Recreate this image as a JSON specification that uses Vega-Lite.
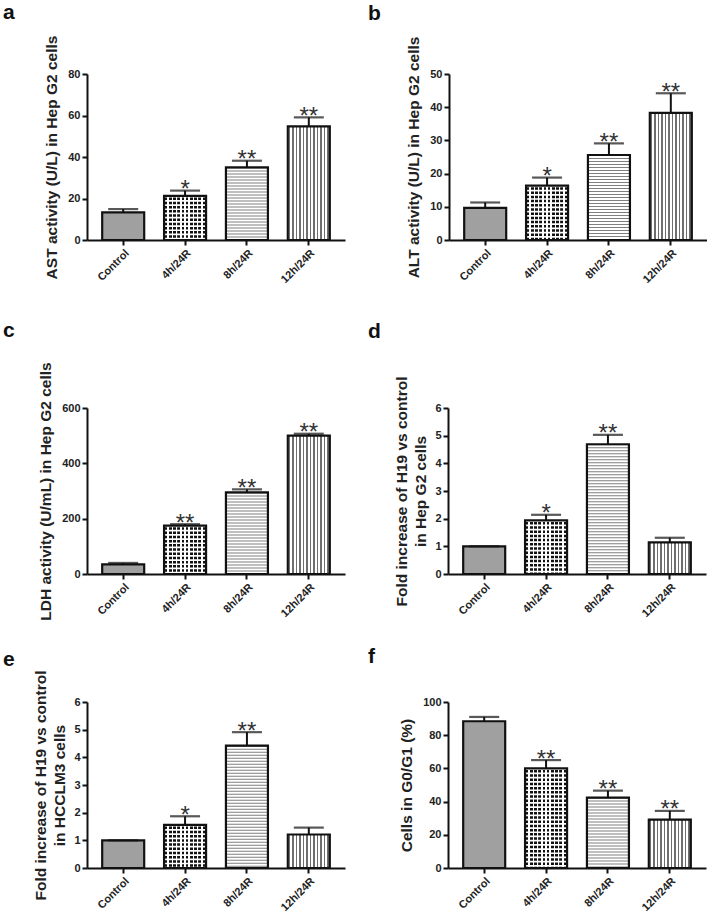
{
"$schema":"https://vega.github.io/schema/vega-lite/v6.json",
"background":"white",
"padding":{"left":3,"top":2,"right":0,"bottom":0},
"datasets":{
"a":[{"group":"Control","value":13.3,"upper":14.9,"sig":""},{"group":"4h/24R","value":21.3,"upper":23.8,"sig":"*"},{"group":"8h/24R","value":35,"upper":38.2,"sig":"**"},{"group":"12h/24R","value":54.8,"upper":59.1,"sig":"**"}],
"b":[{"group":"Control","value":9.7,"upper":11.3,"sig":""},{"group":"4h/24R","value":16.4,"upper":18.8,"sig":"*"},{"group":"8h/24R","value":25.6,"upper":29.1,"sig":"**"},{"group":"12h/24R","value":38.3,"upper":44.2,"sig":"**"}],
"c":[{"group":"Control","value":35,"upper":40,"sig":""},{"group":"4h/24R","value":175,"upper":180,"sig":"**"},{"group":"8h/24R","value":295,"upper":306,"sig":"**"},{"group":"12h/24R","value":500,"upper":507,"sig":"**"}],
"d":[{"group":"Control","value":1.0,"upper":1.0,"sig":""},{"group":"4h/24R","value":1.94,"upper":2.14,"sig":"*"},{"group":"8h/24R","value":4.69,"upper":5.03,"sig":"**"},{"group":"12h/24R","value":1.14,"upper":1.31,"sig":""}],
"e":[{"group":"Control","value":1.0,"upper":1.0,"sig":""},{"group":"4h/24R","value":1.56,"upper":1.87,"sig":"*"},{"group":"8h/24R","value":4.42,"upper":4.91,"sig":"**"},{"group":"12h/24R","value":1.21,"upper":1.46,"sig":""}],
"f":[{"group":"Control","value":88.4,"upper":91,"sig":""},{"group":"4h/24R","value":60,"upper":65,"sig":"**"},{"group":"8h/24R","value":42.4,"upper":46.6,"sig":"**"},{"group":"12h/24R","value":29.2,"upper":34.4,"sig":"**"}]
},
"config":{
"font":"Liberation Sans",
"view":{"stroke":null},
"axis":{"domainColor":"#111","domainWidth":2,"tickColor":"#111","tickWidth":2,"tickSize":5,"labelFont":"Liberation Sans","labelFontSize":11,"labelFontWeight":"bold","labelColor":"#222","labelPadding":2,"titleFont":"Liberation Sans","titleFontSize":15.5,"titleFontWeight":"bold","titleColor":"#222","grid":false},
"title":{"fontSize":21,"fontWeight":"bold","anchor":"start","frame":"group","color":"#111","font":"Liberation Sans"}
},
"spacing":34,
"vconcat":[
{"hconcat":[
{"width":258,"height":166,"title":{"text":"a","dx":-84,"offset":12},"data":{"name":"a"},
"encoding":{"x":{"field":"group","type":"nominal","sort":["Control","4h/24R","8h/24R","12h/24R"],"scale":{"paddingInner":0.33,"paddingOuter":0.25},"axis":{"title":null,"labelAngle":-45}},
"y":{"field":"value","type":"quantitative","scale":{"domain":[0,80]},"axis":{"values":[0,20,40,60,80],"title":"AST activity (U/L) in Hep G2 cells","titlePadding":8}}},
"layer":[
{"transform":[{"filter":"datum.group === 'Control'"}],"mark":{"type":"bar","width":42,"fill":"#a0a0a0"}},
{"transform":[{"filter":"datum.group === '4h/24R'"}],"mark":{"type":"bar","width":42,"fill":{"gradient":"linear","x1":0,"y1":0,"x2":1,"y2":0,"stops":[{"offset":0.019,"color":"#ffffff"},{"offset":0.020,"color":"#111111"},{"offset":0.080,"color":"#111111"},{"offset":0.081,"color":"#ffffff"},{"offset":0.119,"color":"#ffffff"},{"offset":0.120,"color":"#111111"},{"offset":0.180,"color":"#111111"},{"offset":0.181,"color":"#ffffff"},{"offset":0.219,"color":"#ffffff"},{"offset":0.220,"color":"#111111"},{"offset":0.280,"color":"#111111"},{"offset":0.281,"color":"#ffffff"},{"offset":0.319,"color":"#ffffff"},{"offset":0.320,"color":"#111111"},{"offset":0.380,"color":"#111111"},{"offset":0.381,"color":"#ffffff"},{"offset":0.419,"color":"#ffffff"},{"offset":0.420,"color":"#111111"},{"offset":0.480,"color":"#111111"},{"offset":0.481,"color":"#ffffff"},{"offset":0.519,"color":"#ffffff"},{"offset":0.520,"color":"#111111"},{"offset":0.580,"color":"#111111"},{"offset":0.581,"color":"#ffffff"},{"offset":0.619,"color":"#ffffff"},{"offset":0.620,"color":"#111111"},{"offset":0.680,"color":"#111111"},{"offset":0.681,"color":"#ffffff"},{"offset":0.719,"color":"#ffffff"},{"offset":0.720,"color":"#111111"},{"offset":0.780,"color":"#111111"},{"offset":0.781,"color":"#ffffff"},{"offset":0.819,"color":"#ffffff"},{"offset":0.820,"color":"#111111"},{"offset":0.880,"color":"#111111"},{"offset":0.881,"color":"#ffffff"},{"offset":0.919,"color":"#ffffff"},{"offset":0.920,"color":"#111111"},{"offset":0.980,"color":"#111111"},{"offset":0.981,"color":"#ffffff"}]}}},
{"transform":[{"filter":"datum.group === '4h/24R'"}],"mark":{"type":"rule","stroke":"#ffffff","strokeWidth":42,"strokeDash":[1.7,2.5]},"encoding":{"y2":{"datum":0}}},
{"transform":[{"filter":"datum.group === '8h/24R'"}],"mark":{"type":"bar","width":42,"fill":"#ffffff"}},
{"transform":[{"filter":"datum.group === '8h/24R'"}],"mark":{"type":"rule","stroke":"#808080","strokeWidth":42,"strokeDash":[1,2]},"encoding":{"y2":{"datum":0}}},
{"transform":[{"filter":"datum.group === '12h/24R'"}],"mark":{"type":"bar","width":42,"fill":{"gradient":"linear","x1":0,"y1":0,"x2":1,"y2":0,"stops":[{"offset":0.0257,"color":"#ffffff"},{"offset":0.0267,"color":"#6e6e6e"},{"offset":0.0567,"color":"#6e6e6e"},{"offset":0.0577,"color":"#ffffff"},{"offset":0.109,"color":"#ffffff"},{"offset":0.110,"color":"#6e6e6e"},{"offset":0.140,"color":"#6e6e6e"},{"offset":0.141,"color":"#ffffff"},{"offset":0.1923,"color":"#ffffff"},{"offset":0.1933,"color":"#6e6e6e"},{"offset":0.2233,"color":"#6e6e6e"},{"offset":0.2243,"color":"#ffffff"},{"offset":0.2757,"color":"#ffffff"},{"offset":0.2767,"color":"#6e6e6e"},{"offset":0.3067,"color":"#6e6e6e"},{"offset":0.3077,"color":"#ffffff"},{"offset":0.359,"color":"#ffffff"},{"offset":0.360,"color":"#6e6e6e"},{"offset":0.390,"color":"#6e6e6e"},{"offset":0.391,"color":"#ffffff"},{"offset":0.4423,"color":"#ffffff"},{"offset":0.4433,"color":"#6e6e6e"},{"offset":0.4733,"color":"#6e6e6e"},{"offset":0.4743,"color":"#ffffff"},{"offset":0.5257,"color":"#ffffff"},{"offset":0.5267,"color":"#6e6e6e"},{"offset":0.5567,"color":"#6e6e6e"},{"offset":0.5577,"color":"#ffffff"},{"offset":0.609,"color":"#ffffff"},{"offset":0.610,"color":"#6e6e6e"},{"offset":0.640,"color":"#6e6e6e"},{"offset":0.641,"color":"#ffffff"},{"offset":0.6923,"color":"#ffffff"},{"offset":0.6933,"color":"#6e6e6e"},{"offset":0.7233,"color":"#6e6e6e"},{"offset":0.7243,"color":"#ffffff"},{"offset":0.7757,"color":"#ffffff"},{"offset":0.7767,"color":"#6e6e6e"},{"offset":0.8067,"color":"#6e6e6e"},{"offset":0.8077,"color":"#ffffff"},{"offset":0.859,"color":"#ffffff"},{"offset":0.860,"color":"#6e6e6e"},{"offset":0.890,"color":"#6e6e6e"},{"offset":0.891,"color":"#ffffff"},{"offset":0.9423,"color":"#ffffff"},{"offset":0.9433,"color":"#6e6e6e"},{"offset":0.9733,"color":"#6e6e6e"},{"offset":0.9743,"color":"#ffffff"}]}}},
{"mark":{"type":"bar","width":42,"fill":"transparent","stroke":"#111","strokeWidth":2.2}},
{"mark":{"type":"rule","stroke":"#111","strokeWidth":2},"encoding":{"y2":{"field":"upper"}}},
{"mark":{"type":"tick","color":"#111","size":30,"thickness":2.2},"encoding":{"y":{"field":"upper","type":"quantitative"}}},
{"mark":{"type":"text","fontSize":24,"baseline":"alphabetic","dy":6.5,"color":"#333"},"encoding":{"y":{"field":"upper","type":"quantitative"},"text":{"field":"sig"}}}
]},
{"width":258,"height":166,"title":{"text":"b","dx":-81,"offset":12},"data":{"name":"b"},
"encoding":{"x":{"field":"group","type":"nominal","sort":["Control","4h/24R","8h/24R","12h/24R"],"scale":{"paddingInner":0.33,"paddingOuter":0.25},"axis":{"title":null,"labelAngle":-45}},
"y":{"field":"value","type":"quantitative","scale":{"domain":[0,50]},"axis":{"values":[0,10,20,30,40,50],"title":"ALT activity (U/L) in Hep G2 cells","titlePadding":8}}},
"layer":[
{"transform":[{"filter":"datum.group === 'Control'"}],"mark":{"type":"bar","width":42,"fill":"#a0a0a0"}},
{"transform":[{"filter":"datum.group === '4h/24R'"}],"mark":{"type":"bar","width":42,"fill":{"gradient":"linear","x1":0,"y1":0,"x2":1,"y2":0,"stops":[{"offset":0.019,"color":"#ffffff"},{"offset":0.020,"color":"#111111"},{"offset":0.080,"color":"#111111"},{"offset":0.081,"color":"#ffffff"},{"offset":0.119,"color":"#ffffff"},{"offset":0.120,"color":"#111111"},{"offset":0.180,"color":"#111111"},{"offset":0.181,"color":"#ffffff"},{"offset":0.219,"color":"#ffffff"},{"offset":0.220,"color":"#111111"},{"offset":0.280,"color":"#111111"},{"offset":0.281,"color":"#ffffff"},{"offset":0.319,"color":"#ffffff"},{"offset":0.320,"color":"#111111"},{"offset":0.380,"color":"#111111"},{"offset":0.381,"color":"#ffffff"},{"offset":0.419,"color":"#ffffff"},{"offset":0.420,"color":"#111111"},{"offset":0.480,"color":"#111111"},{"offset":0.481,"color":"#ffffff"},{"offset":0.519,"color":"#ffffff"},{"offset":0.520,"color":"#111111"},{"offset":0.580,"color":"#111111"},{"offset":0.581,"color":"#ffffff"},{"offset":0.619,"color":"#ffffff"},{"offset":0.620,"color":"#111111"},{"offset":0.680,"color":"#111111"},{"offset":0.681,"color":"#ffffff"},{"offset":0.719,"color":"#ffffff"},{"offset":0.720,"color":"#111111"},{"offset":0.780,"color":"#111111"},{"offset":0.781,"color":"#ffffff"},{"offset":0.819,"color":"#ffffff"},{"offset":0.820,"color":"#111111"},{"offset":0.880,"color":"#111111"},{"offset":0.881,"color":"#ffffff"},{"offset":0.919,"color":"#ffffff"},{"offset":0.920,"color":"#111111"},{"offset":0.980,"color":"#111111"},{"offset":0.981,"color":"#ffffff"}]}}},
{"transform":[{"filter":"datum.group === '4h/24R'"}],"mark":{"type":"rule","stroke":"#ffffff","strokeWidth":42,"strokeDash":[1.7,2.5]},"encoding":{"y2":{"datum":0}}},
{"transform":[{"filter":"datum.group === '8h/24R'"}],"mark":{"type":"bar","width":42,"fill":"#ffffff"}},
{"transform":[{"filter":"datum.group === '8h/24R'"}],"mark":{"type":"rule","stroke":"#808080","strokeWidth":42,"strokeDash":[1,2]},"encoding":{"y2":{"datum":0}}},
{"transform":[{"filter":"datum.group === '12h/24R'"}],"mark":{"type":"bar","width":42,"fill":{"gradient":"linear","x1":0,"y1":0,"x2":1,"y2":0,"stops":[{"offset":0.0257,"color":"#ffffff"},{"offset":0.0267,"color":"#6e6e6e"},{"offset":0.0567,"color":"#6e6e6e"},{"offset":0.0577,"color":"#ffffff"},{"offset":0.109,"color":"#ffffff"},{"offset":0.110,"color":"#6e6e6e"},{"offset":0.140,"color":"#6e6e6e"},{"offset":0.141,"color":"#ffffff"},{"offset":0.1923,"color":"#ffffff"},{"offset":0.1933,"color":"#6e6e6e"},{"offset":0.2233,"color":"#6e6e6e"},{"offset":0.2243,"color":"#ffffff"},{"offset":0.2757,"color":"#ffffff"},{"offset":0.2767,"color":"#6e6e6e"},{"offset":0.3067,"color":"#6e6e6e"},{"offset":0.3077,"color":"#ffffff"},{"offset":0.359,"color":"#ffffff"},{"offset":0.360,"color":"#6e6e6e"},{"offset":0.390,"color":"#6e6e6e"},{"offset":0.391,"color":"#ffffff"},{"offset":0.4423,"color":"#ffffff"},{"offset":0.4433,"color":"#6e6e6e"},{"offset":0.4733,"color":"#6e6e6e"},{"offset":0.4743,"color":"#ffffff"},{"offset":0.5257,"color":"#ffffff"},{"offset":0.5267,"color":"#6e6e6e"},{"offset":0.5567,"color":"#6e6e6e"},{"offset":0.5577,"color":"#ffffff"},{"offset":0.609,"color":"#ffffff"},{"offset":0.610,"color":"#6e6e6e"},{"offset":0.640,"color":"#6e6e6e"},{"offset":0.641,"color":"#ffffff"},{"offset":0.6923,"color":"#ffffff"},{"offset":0.6933,"color":"#6e6e6e"},{"offset":0.7233,"color":"#6e6e6e"},{"offset":0.7243,"color":"#ffffff"},{"offset":0.7757,"color":"#ffffff"},{"offset":0.7767,"color":"#6e6e6e"},{"offset":0.8067,"color":"#6e6e6e"},{"offset":0.8077,"color":"#ffffff"},{"offset":0.859,"color":"#ffffff"},{"offset":0.860,"color":"#6e6e6e"},{"offset":0.890,"color":"#6e6e6e"},{"offset":0.891,"color":"#ffffff"},{"offset":0.9423,"color":"#ffffff"},{"offset":0.9433,"color":"#6e6e6e"},{"offset":0.9733,"color":"#6e6e6e"},{"offset":0.9743,"color":"#ffffff"}]}}},
{"mark":{"type":"bar","width":42,"fill":"transparent","stroke":"#111","strokeWidth":2.2}},
{"mark":{"type":"rule","stroke":"#111","strokeWidth":2},"encoding":{"y2":{"field":"upper"}}},
{"mark":{"type":"tick","color":"#111","size":30,"thickness":2.2},"encoding":{"y":{"field":"upper","type":"quantitative"}}},
{"mark":{"type":"text","fontSize":24,"baseline":"alphabetic","dy":6.5,"color":"#333"},"encoding":{"y":{"field":"upper","type":"quantitative"},"text":{"field":"sig"}}}
]}
],"spacing":23},
{"spacing":25,"vconcat":[
{"hconcat":[
{"width":258,"height":166,"title":{"text":"c","dx":-84,"offset":21},"data":{"name":"c"},
"encoding":{"x":{"field":"group","type":"nominal","sort":["Control","4h/24R","8h/24R","12h/24R"],"scale":{"paddingInner":0.33,"paddingOuter":0.25},"axis":{"title":null,"labelAngle":-45}},
"y":{"field":"value","type":"quantitative","scale":{"domain":[0,600]},"axis":{"values":[0,200,400,600],"title":"LDH activity (U/mL) in Hep G2 cells","titlePadding":8}}},
"layer":[
{"transform":[{"filter":"datum.group === 'Control'"}],"mark":{"type":"bar","width":42,"fill":"#a0a0a0"}},
{"transform":[{"filter":"datum.group === '4h/24R'"}],"mark":{"type":"bar","width":42,"fill":{"gradient":"linear","x1":0,"y1":0,"x2":1,"y2":0,"stops":[{"offset":0.019,"color":"#ffffff"},{"offset":0.020,"color":"#111111"},{"offset":0.080,"color":"#111111"},{"offset":0.081,"color":"#ffffff"},{"offset":0.119,"color":"#ffffff"},{"offset":0.120,"color":"#111111"},{"offset":0.180,"color":"#111111"},{"offset":0.181,"color":"#ffffff"},{"offset":0.219,"color":"#ffffff"},{"offset":0.220,"color":"#111111"},{"offset":0.280,"color":"#111111"},{"offset":0.281,"color":"#ffffff"},{"offset":0.319,"color":"#ffffff"},{"offset":0.320,"color":"#111111"},{"offset":0.380,"color":"#111111"},{"offset":0.381,"color":"#ffffff"},{"offset":0.419,"color":"#ffffff"},{"offset":0.420,"color":"#111111"},{"offset":0.480,"color":"#111111"},{"offset":0.481,"color":"#ffffff"},{"offset":0.519,"color":"#ffffff"},{"offset":0.520,"color":"#111111"},{"offset":0.580,"color":"#111111"},{"offset":0.581,"color":"#ffffff"},{"offset":0.619,"color":"#ffffff"},{"offset":0.620,"color":"#111111"},{"offset":0.680,"color":"#111111"},{"offset":0.681,"color":"#ffffff"},{"offset":0.719,"color":"#ffffff"},{"offset":0.720,"color":"#111111"},{"offset":0.780,"color":"#111111"},{"offset":0.781,"color":"#ffffff"},{"offset":0.819,"color":"#ffffff"},{"offset":0.820,"color":"#111111"},{"offset":0.880,"color":"#111111"},{"offset":0.881,"color":"#ffffff"},{"offset":0.919,"color":"#ffffff"},{"offset":0.920,"color":"#111111"},{"offset":0.980,"color":"#111111"},{"offset":0.981,"color":"#ffffff"}]}}},
{"transform":[{"filter":"datum.group === '4h/24R'"}],"mark":{"type":"rule","stroke":"#ffffff","strokeWidth":42,"strokeDash":[1.7,2.5]},"encoding":{"y2":{"datum":0}}},
{"transform":[{"filter":"datum.group === '8h/24R'"}],"mark":{"type":"bar","width":42,"fill":"#ffffff"}},
{"transform":[{"filter":"datum.group === '8h/24R'"}],"mark":{"type":"rule","stroke":"#808080","strokeWidth":42,"strokeDash":[1,2]},"encoding":{"y2":{"datum":0}}},
{"transform":[{"filter":"datum.group === '12h/24R'"}],"mark":{"type":"bar","width":42,"fill":{"gradient":"linear","x1":0,"y1":0,"x2":1,"y2":0,"stops":[{"offset":0.0257,"color":"#ffffff"},{"offset":0.0267,"color":"#6e6e6e"},{"offset":0.0567,"color":"#6e6e6e"},{"offset":0.0577,"color":"#ffffff"},{"offset":0.109,"color":"#ffffff"},{"offset":0.110,"color":"#6e6e6e"},{"offset":0.140,"color":"#6e6e6e"},{"offset":0.141,"color":"#ffffff"},{"offset":0.1923,"color":"#ffffff"},{"offset":0.1933,"color":"#6e6e6e"},{"offset":0.2233,"color":"#6e6e6e"},{"offset":0.2243,"color":"#ffffff"},{"offset":0.2757,"color":"#ffffff"},{"offset":0.2767,"color":"#6e6e6e"},{"offset":0.3067,"color":"#6e6e6e"},{"offset":0.3077,"color":"#ffffff"},{"offset":0.359,"color":"#ffffff"},{"offset":0.360,"color":"#6e6e6e"},{"offset":0.390,"color":"#6e6e6e"},{"offset":0.391,"color":"#ffffff"},{"offset":0.4423,"color":"#ffffff"},{"offset":0.4433,"color":"#6e6e6e"},{"offset":0.4733,"color":"#6e6e6e"},{"offset":0.4743,"color":"#ffffff"},{"offset":0.5257,"color":"#ffffff"},{"offset":0.5267,"color":"#6e6e6e"},{"offset":0.5567,"color":"#6e6e6e"},{"offset":0.5577,"color":"#ffffff"},{"offset":0.609,"color":"#ffffff"},{"offset":0.610,"color":"#6e6e6e"},{"offset":0.640,"color":"#6e6e6e"},{"offset":0.641,"color":"#ffffff"},{"offset":0.6923,"color":"#ffffff"},{"offset":0.6933,"color":"#6e6e6e"},{"offset":0.7233,"color":"#6e6e6e"},{"offset":0.7243,"color":"#ffffff"},{"offset":0.7757,"color":"#ffffff"},{"offset":0.7767,"color":"#6e6e6e"},{"offset":0.8067,"color":"#6e6e6e"},{"offset":0.8077,"color":"#ffffff"},{"offset":0.859,"color":"#ffffff"},{"offset":0.860,"color":"#6e6e6e"},{"offset":0.890,"color":"#6e6e6e"},{"offset":0.891,"color":"#ffffff"},{"offset":0.9423,"color":"#ffffff"},{"offset":0.9433,"color":"#6e6e6e"},{"offset":0.9733,"color":"#6e6e6e"},{"offset":0.9743,"color":"#ffffff"}]}}},
{"mark":{"type":"bar","width":42,"fill":"transparent","stroke":"#111","strokeWidth":2.2}},
{"mark":{"type":"rule","stroke":"#111","strokeWidth":2},"encoding":{"y2":{"field":"upper"}}},
{"mark":{"type":"tick","color":"#111","size":30,"thickness":2.2},"encoding":{"y":{"field":"upper","type":"quantitative"}}},
{"mark":{"type":"text","fontSize":24,"baseline":"alphabetic","dy":6.5,"color":"#333"},"encoding":{"y":{"field":"upper","type":"quantitative"},"text":{"field":"sig"}}}
]},
{"width":258,"height":166,"title":{"text":"d","dx":-80,"offset":34},"data":{"name":"d"},
"encoding":{"x":{"field":"group","type":"nominal","sort":["Control","4h/24R","8h/24R","12h/24R"],"scale":{"paddingInner":0.33,"paddingOuter":0.25},"axis":{"title":null,"labelAngle":-45}},
"y":{"field":"value","type":"quantitative","scale":{"domain":[0,6]},"axis":{"values":[0,1,2,3,4,5,6],"title":["Fold increase of H19 vs control","in Hep G2 cells"],"titleLineHeight":19,"titlePadding":6}}},
"layer":[
{"transform":[{"filter":"datum.group === 'Control'"}],"mark":{"type":"bar","width":42,"fill":"#a0a0a0"}},
{"transform":[{"filter":"datum.group === '4h/24R'"}],"mark":{"type":"bar","width":42,"fill":{"gradient":"linear","x1":0,"y1":0,"x2":1,"y2":0,"stops":[{"offset":0.019,"color":"#ffffff"},{"offset":0.020,"color":"#111111"},{"offset":0.080,"color":"#111111"},{"offset":0.081,"color":"#ffffff"},{"offset":0.119,"color":"#ffffff"},{"offset":0.120,"color":"#111111"},{"offset":0.180,"color":"#111111"},{"offset":0.181,"color":"#ffffff"},{"offset":0.219,"color":"#ffffff"},{"offset":0.220,"color":"#111111"},{"offset":0.280,"color":"#111111"},{"offset":0.281,"color":"#ffffff"},{"offset":0.319,"color":"#ffffff"},{"offset":0.320,"color":"#111111"},{"offset":0.380,"color":"#111111"},{"offset":0.381,"color":"#ffffff"},{"offset":0.419,"color":"#ffffff"},{"offset":0.420,"color":"#111111"},{"offset":0.480,"color":"#111111"},{"offset":0.481,"color":"#ffffff"},{"offset":0.519,"color":"#ffffff"},{"offset":0.520,"color":"#111111"},{"offset":0.580,"color":"#111111"},{"offset":0.581,"color":"#ffffff"},{"offset":0.619,"color":"#ffffff"},{"offset":0.620,"color":"#111111"},{"offset":0.680,"color":"#111111"},{"offset":0.681,"color":"#ffffff"},{"offset":0.719,"color":"#ffffff"},{"offset":0.720,"color":"#111111"},{"offset":0.780,"color":"#111111"},{"offset":0.781,"color":"#ffffff"},{"offset":0.819,"color":"#ffffff"},{"offset":0.820,"color":"#111111"},{"offset":0.880,"color":"#111111"},{"offset":0.881,"color":"#ffffff"},{"offset":0.919,"color":"#ffffff"},{"offset":0.920,"color":"#111111"},{"offset":0.980,"color":"#111111"},{"offset":0.981,"color":"#ffffff"}]}}},
{"transform":[{"filter":"datum.group === '4h/24R'"}],"mark":{"type":"rule","stroke":"#ffffff","strokeWidth":42,"strokeDash":[1.7,2.5]},"encoding":{"y2":{"datum":0}}},
{"transform":[{"filter":"datum.group === '8h/24R'"}],"mark":{"type":"bar","width":42,"fill":"#ffffff"}},
{"transform":[{"filter":"datum.group === '8h/24R'"}],"mark":{"type":"rule","stroke":"#808080","strokeWidth":42,"strokeDash":[1,2]},"encoding":{"y2":{"datum":0}}},
{"transform":[{"filter":"datum.group === '12h/24R'"}],"mark":{"type":"bar","width":42,"fill":{"gradient":"linear","x1":0,"y1":0,"x2":1,"y2":0,"stops":[{"offset":0.0257,"color":"#ffffff"},{"offset":0.0267,"color":"#6e6e6e"},{"offset":0.0567,"color":"#6e6e6e"},{"offset":0.0577,"color":"#ffffff"},{"offset":0.109,"color":"#ffffff"},{"offset":0.110,"color":"#6e6e6e"},{"offset":0.140,"color":"#6e6e6e"},{"offset":0.141,"color":"#ffffff"},{"offset":0.1923,"color":"#ffffff"},{"offset":0.1933,"color":"#6e6e6e"},{"offset":0.2233,"color":"#6e6e6e"},{"offset":0.2243,"color":"#ffffff"},{"offset":0.2757,"color":"#ffffff"},{"offset":0.2767,"color":"#6e6e6e"},{"offset":0.3067,"color":"#6e6e6e"},{"offset":0.3077,"color":"#ffffff"},{"offset":0.359,"color":"#ffffff"},{"offset":0.360,"color":"#6e6e6e"},{"offset":0.390,"color":"#6e6e6e"},{"offset":0.391,"color":"#ffffff"},{"offset":0.4423,"color":"#ffffff"},{"offset":0.4433,"color":"#6e6e6e"},{"offset":0.4733,"color":"#6e6e6e"},{"offset":0.4743,"color":"#ffffff"},{"offset":0.5257,"color":"#ffffff"},{"offset":0.5267,"color":"#6e6e6e"},{"offset":0.5567,"color":"#6e6e6e"},{"offset":0.5577,"color":"#ffffff"},{"offset":0.609,"color":"#ffffff"},{"offset":0.610,"color":"#6e6e6e"},{"offset":0.640,"color":"#6e6e6e"},{"offset":0.641,"color":"#ffffff"},{"offset":0.6923,"color":"#ffffff"},{"offset":0.6933,"color":"#6e6e6e"},{"offset":0.7233,"color":"#6e6e6e"},{"offset":0.7243,"color":"#ffffff"},{"offset":0.7757,"color":"#ffffff"},{"offset":0.7767,"color":"#6e6e6e"},{"offset":0.8067,"color":"#6e6e6e"},{"offset":0.8077,"color":"#ffffff"},{"offset":0.859,"color":"#ffffff"},{"offset":0.860,"color":"#6e6e6e"},{"offset":0.890,"color":"#6e6e6e"},{"offset":0.891,"color":"#ffffff"},{"offset":0.9423,"color":"#ffffff"},{"offset":0.9433,"color":"#6e6e6e"},{"offset":0.9733,"color":"#6e6e6e"},{"offset":0.9743,"color":"#ffffff"}]}}},
{"mark":{"type":"bar","width":42,"fill":"transparent","stroke":"#111","strokeWidth":2.2}},
{"mark":{"type":"rule","stroke":"#111","strokeWidth":2},"encoding":{"y2":{"field":"upper"}}},
{"mark":{"type":"tick","color":"#111","size":30,"thickness":2.2},"encoding":{"y":{"field":"upper","type":"quantitative"}}},
{"mark":{"type":"text","fontSize":24,"baseline":"alphabetic","dy":6.5,"color":"#333"},"encoding":{"y":{"field":"upper","type":"quantitative"},"text":{"field":"sig"}}}
]}
],"spacing":23},
{"hconcat":[
{"width":258,"height":166,"title":{"text":"e","dx":-84,"offset":0},"data":{"name":"e"},
"encoding":{"x":{"field":"group","type":"nominal","sort":["Control","4h/24R","8h/24R","12h/24R"],"scale":{"paddingInner":0.33,"paddingOuter":0.25},"axis":{"title":null,"labelAngle":-45}},
"y":{"field":"value","type":"quantitative","scale":{"domain":[0,6]},"axis":{"values":[0,1,2,3,4,5,6],"title":["Fold increase of H19 vs control","in HCCLM3 cells"],"titleLineHeight":19,"titlePadding":6}}},
"layer":[
{"transform":[{"filter":"datum.group === 'Control'"}],"mark":{"type":"bar","width":42,"fill":"#a0a0a0"}},
{"transform":[{"filter":"datum.group === '4h/24R'"}],"mark":{"type":"bar","width":42,"fill":{"gradient":"linear","x1":0,"y1":0,"x2":1,"y2":0,"stops":[{"offset":0.019,"color":"#ffffff"},{"offset":0.020,"color":"#111111"},{"offset":0.080,"color":"#111111"},{"offset":0.081,"color":"#ffffff"},{"offset":0.119,"color":"#ffffff"},{"offset":0.120,"color":"#111111"},{"offset":0.180,"color":"#111111"},{"offset":0.181,"color":"#ffffff"},{"offset":0.219,"color":"#ffffff"},{"offset":0.220,"color":"#111111"},{"offset":0.280,"color":"#111111"},{"offset":0.281,"color":"#ffffff"},{"offset":0.319,"color":"#ffffff"},{"offset":0.320,"color":"#111111"},{"offset":0.380,"color":"#111111"},{"offset":0.381,"color":"#ffffff"},{"offset":0.419,"color":"#ffffff"},{"offset":0.420,"color":"#111111"},{"offset":0.480,"color":"#111111"},{"offset":0.481,"color":"#ffffff"},{"offset":0.519,"color":"#ffffff"},{"offset":0.520,"color":"#111111"},{"offset":0.580,"color":"#111111"},{"offset":0.581,"color":"#ffffff"},{"offset":0.619,"color":"#ffffff"},{"offset":0.620,"color":"#111111"},{"offset":0.680,"color":"#111111"},{"offset":0.681,"color":"#ffffff"},{"offset":0.719,"color":"#ffffff"},{"offset":0.720,"color":"#111111"},{"offset":0.780,"color":"#111111"},{"offset":0.781,"color":"#ffffff"},{"offset":0.819,"color":"#ffffff"},{"offset":0.820,"color":"#111111"},{"offset":0.880,"color":"#111111"},{"offset":0.881,"color":"#ffffff"},{"offset":0.919,"color":"#ffffff"},{"offset":0.920,"color":"#111111"},{"offset":0.980,"color":"#111111"},{"offset":0.981,"color":"#ffffff"}]}}},
{"transform":[{"filter":"datum.group === '4h/24R'"}],"mark":{"type":"rule","stroke":"#ffffff","strokeWidth":42,"strokeDash":[1.7,2.5]},"encoding":{"y2":{"datum":0}}},
{"transform":[{"filter":"datum.group === '8h/24R'"}],"mark":{"type":"bar","width":42,"fill":"#ffffff"}},
{"transform":[{"filter":"datum.group === '8h/24R'"}],"mark":{"type":"rule","stroke":"#808080","strokeWidth":42,"strokeDash":[1,2]},"encoding":{"y2":{"datum":0}}},
{"transform":[{"filter":"datum.group === '12h/24R'"}],"mark":{"type":"bar","width":42,"fill":{"gradient":"linear","x1":0,"y1":0,"x2":1,"y2":0,"stops":[{"offset":0.0257,"color":"#ffffff"},{"offset":0.0267,"color":"#6e6e6e"},{"offset":0.0567,"color":"#6e6e6e"},{"offset":0.0577,"color":"#ffffff"},{"offset":0.109,"color":"#ffffff"},{"offset":0.110,"color":"#6e6e6e"},{"offset":0.140,"color":"#6e6e6e"},{"offset":0.141,"color":"#ffffff"},{"offset":0.1923,"color":"#ffffff"},{"offset":0.1933,"color":"#6e6e6e"},{"offset":0.2233,"color":"#6e6e6e"},{"offset":0.2243,"color":"#ffffff"},{"offset":0.2757,"color":"#ffffff"},{"offset":0.2767,"color":"#6e6e6e"},{"offset":0.3067,"color":"#6e6e6e"},{"offset":0.3077,"color":"#ffffff"},{"offset":0.359,"color":"#ffffff"},{"offset":0.360,"color":"#6e6e6e"},{"offset":0.390,"color":"#6e6e6e"},{"offset":0.391,"color":"#ffffff"},{"offset":0.4423,"color":"#ffffff"},{"offset":0.4433,"color":"#6e6e6e"},{"offset":0.4733,"color":"#6e6e6e"},{"offset":0.4743,"color":"#ffffff"},{"offset":0.5257,"color":"#ffffff"},{"offset":0.5267,"color":"#6e6e6e"},{"offset":0.5567,"color":"#6e6e6e"},{"offset":0.5577,"color":"#ffffff"},{"offset":0.609,"color":"#ffffff"},{"offset":0.610,"color":"#6e6e6e"},{"offset":0.640,"color":"#6e6e6e"},{"offset":0.641,"color":"#ffffff"},{"offset":0.6923,"color":"#ffffff"},{"offset":0.6933,"color":"#6e6e6e"},{"offset":0.7233,"color":"#6e6e6e"},{"offset":0.7243,"color":"#ffffff"},{"offset":0.7757,"color":"#ffffff"},{"offset":0.7767,"color":"#6e6e6e"},{"offset":0.8067,"color":"#6e6e6e"},{"offset":0.8077,"color":"#ffffff"},{"offset":0.859,"color":"#ffffff"},{"offset":0.860,"color":"#6e6e6e"},{"offset":0.890,"color":"#6e6e6e"},{"offset":0.891,"color":"#ffffff"},{"offset":0.9423,"color":"#ffffff"},{"offset":0.9433,"color":"#6e6e6e"},{"offset":0.9733,"color":"#6e6e6e"},{"offset":0.9743,"color":"#ffffff"}]}}},
{"mark":{"type":"bar","width":42,"fill":"transparent","stroke":"#111","strokeWidth":2.2}},
{"mark":{"type":"rule","stroke":"#111","strokeWidth":2},"encoding":{"y2":{"field":"upper"}}},
{"mark":{"type":"tick","color":"#111","size":30,"thickness":2.2},"encoding":{"y":{"field":"upper","type":"quantitative"}}},
{"mark":{"type":"text","fontSize":24,"baseline":"alphabetic","dy":6.5,"color":"#333"},"encoding":{"y":{"field":"upper","type":"quantitative"},"text":{"field":"sig"}}}
]},
{"width":258,"height":166,"title":{"text":"f","dx":-80,"offset":29},"data":{"name":"f"},
"encoding":{"x":{"field":"group","type":"nominal","sort":["Control","4h/24R","8h/24R","12h/24R"],"scale":{"paddingInner":0.33,"paddingOuter":0.25},"axis":{"title":null,"labelAngle":-45}},
"y":{"field":"value","type":"quantitative","scale":{"domain":[0,100]},"axis":{"values":[0,20,40,60,80,100],"title":"Cells in G0/G1 (%)","titlePadding":8}}},
"layer":[
{"transform":[{"filter":"datum.group === 'Control'"}],"mark":{"type":"bar","width":42,"fill":"#a0a0a0"}},
{"transform":[{"filter":"datum.group === '4h/24R'"}],"mark":{"type":"bar","width":42,"fill":{"gradient":"linear","x1":0,"y1":0,"x2":1,"y2":0,"stops":[{"offset":0.019,"color":"#ffffff"},{"offset":0.020,"color":"#111111"},{"offset":0.080,"color":"#111111"},{"offset":0.081,"color":"#ffffff"},{"offset":0.119,"color":"#ffffff"},{"offset":0.120,"color":"#111111"},{"offset":0.180,"color":"#111111"},{"offset":0.181,"color":"#ffffff"},{"offset":0.219,"color":"#ffffff"},{"offset":0.220,"color":"#111111"},{"offset":0.280,"color":"#111111"},{"offset":0.281,"color":"#ffffff"},{"offset":0.319,"color":"#ffffff"},{"offset":0.320,"color":"#111111"},{"offset":0.380,"color":"#111111"},{"offset":0.381,"color":"#ffffff"},{"offset":0.419,"color":"#ffffff"},{"offset":0.420,"color":"#111111"},{"offset":0.480,"color":"#111111"},{"offset":0.481,"color":"#ffffff"},{"offset":0.519,"color":"#ffffff"},{"offset":0.520,"color":"#111111"},{"offset":0.580,"color":"#111111"},{"offset":0.581,"color":"#ffffff"},{"offset":0.619,"color":"#ffffff"},{"offset":0.620,"color":"#111111"},{"offset":0.680,"color":"#111111"},{"offset":0.681,"color":"#ffffff"},{"offset":0.719,"color":"#ffffff"},{"offset":0.720,"color":"#111111"},{"offset":0.780,"color":"#111111"},{"offset":0.781,"color":"#ffffff"},{"offset":0.819,"color":"#ffffff"},{"offset":0.820,"color":"#111111"},{"offset":0.880,"color":"#111111"},{"offset":0.881,"color":"#ffffff"},{"offset":0.919,"color":"#ffffff"},{"offset":0.920,"color":"#111111"},{"offset":0.980,"color":"#111111"},{"offset":0.981,"color":"#ffffff"}]}}},
{"transform":[{"filter":"datum.group === '4h/24R'"}],"mark":{"type":"rule","stroke":"#ffffff","strokeWidth":42,"strokeDash":[1.7,2.5]},"encoding":{"y2":{"datum":0}}},
{"transform":[{"filter":"datum.group === '8h/24R'"}],"mark":{"type":"bar","width":42,"fill":"#ffffff"}},
{"transform":[{"filter":"datum.group === '8h/24R'"}],"mark":{"type":"rule","stroke":"#808080","strokeWidth":42,"strokeDash":[1,2]},"encoding":{"y2":{"datum":0}}},
{"transform":[{"filter":"datum.group === '12h/24R'"}],"mark":{"type":"bar","width":42,"fill":{"gradient":"linear","x1":0,"y1":0,"x2":1,"y2":0,"stops":[{"offset":0.0257,"color":"#ffffff"},{"offset":0.0267,"color":"#6e6e6e"},{"offset":0.0567,"color":"#6e6e6e"},{"offset":0.0577,"color":"#ffffff"},{"offset":0.109,"color":"#ffffff"},{"offset":0.110,"color":"#6e6e6e"},{"offset":0.140,"color":"#6e6e6e"},{"offset":0.141,"color":"#ffffff"},{"offset":0.1923,"color":"#ffffff"},{"offset":0.1933,"color":"#6e6e6e"},{"offset":0.2233,"color":"#6e6e6e"},{"offset":0.2243,"color":"#ffffff"},{"offset":0.2757,"color":"#ffffff"},{"offset":0.2767,"color":"#6e6e6e"},{"offset":0.3067,"color":"#6e6e6e"},{"offset":0.3077,"color":"#ffffff"},{"offset":0.359,"color":"#ffffff"},{"offset":0.360,"color":"#6e6e6e"},{"offset":0.390,"color":"#6e6e6e"},{"offset":0.391,"color":"#ffffff"},{"offset":0.4423,"color":"#ffffff"},{"offset":0.4433,"color":"#6e6e6e"},{"offset":0.4733,"color":"#6e6e6e"},{"offset":0.4743,"color":"#ffffff"},{"offset":0.5257,"color":"#ffffff"},{"offset":0.5267,"color":"#6e6e6e"},{"offset":0.5567,"color":"#6e6e6e"},{"offset":0.5577,"color":"#ffffff"},{"offset":0.609,"color":"#ffffff"},{"offset":0.610,"color":"#6e6e6e"},{"offset":0.640,"color":"#6e6e6e"},{"offset":0.641,"color":"#ffffff"},{"offset":0.6923,"color":"#ffffff"},{"offset":0.6933,"color":"#6e6e6e"},{"offset":0.7233,"color":"#6e6e6e"},{"offset":0.7243,"color":"#ffffff"},{"offset":0.7757,"color":"#ffffff"},{"offset":0.7767,"color":"#6e6e6e"},{"offset":0.8067,"color":"#6e6e6e"},{"offset":0.8077,"color":"#ffffff"},{"offset":0.859,"color":"#ffffff"},{"offset":0.860,"color":"#6e6e6e"},{"offset":0.890,"color":"#6e6e6e"},{"offset":0.891,"color":"#ffffff"},{"offset":0.9423,"color":"#ffffff"},{"offset":0.9433,"color":"#6e6e6e"},{"offset":0.9733,"color":"#6e6e6e"},{"offset":0.9743,"color":"#ffffff"}]}}},
{"mark":{"type":"bar","width":42,"fill":"transparent","stroke":"#111","strokeWidth":2.2}},
{"mark":{"type":"rule","stroke":"#111","strokeWidth":2},"encoding":{"y2":{"field":"upper"}}},
{"mark":{"type":"tick","color":"#111","size":30,"thickness":2.2},"encoding":{"y":{"field":"upper","type":"quantitative"}}},
{"mark":{"type":"text","fontSize":24,"baseline":"alphabetic","dy":6.5,"color":"#333"},"encoding":{"y":{"field":"upper","type":"quantitative"},"text":{"field":"sig"}}}
]}
],"spacing":23}
]}
]
}
